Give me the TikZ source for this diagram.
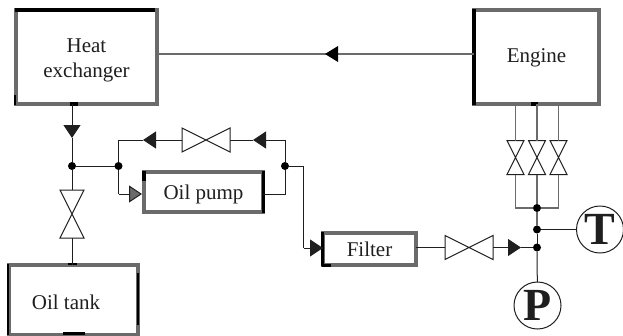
\documentclass[tikz,border=0pt]{standalone}
\usepackage{fontspec}
\setmainfont{Liberation Serif}
\usetikzlibrary{arrows.meta,calc}
\definecolor{ink}{gray}{0.12}
\definecolor{edgegrey}{gray}{0.42}
\tikzset{
  box/.style={draw=edgegrey,line width=3.5pt,fill=white,inner sep=0pt,outer sep=0pt,align=center,
    text=ink,font=\fontsize{21}{25}\selectfont},
  accent/.style={draw=black,line width=3.5pt},
  conn/.style={draw=ink,line width=1pt},
  greyconn/.style={draw=edgegrey,line width=1.4pt},
  tip/.style={-{Triangle[length=13pt,width=17pt]}},
  dot/.style={circle,fill=black,inner sep=0pt,outer sep=0pt,minimum size=8pt},
  gauge/.style={circle,draw=ink,line width=1pt,fill=white,inner sep=0pt,outer sep=0pt,minimum size=47pt,
    text=ink,font=\bfseries\fontsize{46}{46}\selectfont},
  valveh/.style={inner sep=0pt,outer sep=0pt,minimum width=48pt,minimum height=24pt,
    append after command={\pgfextra{\draw[conn,line join=miter] (\tikzlastnode.north west) -- (\tikzlastnode.south east)
      -- (\tikzlastnode.north east) -- (\tikzlastnode.south west) -- cycle;}}},
  valvev/.style={inner sep=0pt,outer sep=0pt,minimum width=#1,minimum height=#1*2,
    append after command={\pgfextra{\draw[conn,line join=miter] (\tikzlastnode.north west) -- (\tikzlastnode.south east)
      -- (\tikzlastnode.south west) -- (\tikzlastnode.north east) -- cycle;}}},
}
\begin{document}
\begin{tikzpicture}[x=1pt,y=-1pt]
\useasboundingbox (0,0) rectangle (623,335);
% boxes
\node[box,minimum width=141pt,minimum height=94pt] (he) at (86.5,57) {\rule{0pt}{21pt}Heat\\exchanger};
\node[box,minimum width=125pt,minimum height=94pt] (engine) at (536.5,57) {\rule{0pt}{16pt}Engine};
\node[box,minimum width=119pt,minimum height=40pt] (pump) at (203.5,192) {\rule{0pt}{20pt}Oil pump};
\node[box,minimum width=93pt,minimum height=32pt] (filter) at (369.5,249) {\rule{0pt}{16pt}Filter};
\node[box,minimum width=129pt,minimum height=70pt] (tank) at (73.5,300) {};
\node[text=ink,font=\fontsize{21}{25}\selectfont,inner sep=0pt] (tanklabel) at (66,302) {Oil tank};
% accents
\draw[accent] (15,10) -- (155,10);
\draw[accent] (70,104) -- (78,104);
\draw[line width=1.5pt,black] (15,95) -- (15,105);
\draw[accent] (474,9) -- (474,105);
\draw[accent] (531,104) -- (538,104);
\draw[accent] (144,171) -- (144,181);
\draw[accent] (263.5,171) -- (263.5,213);
\draw[accent,line width=2.5pt] (8,264) -- (8,335);
\draw[accent,line width=2.5pt] (138,273) -- (138,325);
\draw[accent] (63,333.5) -- (85,333.5);
\draw[line width=1.5pt,black] (68,264) -- (77,264);
\draw[accent] (322.5,232) -- (322.5,266);
\draw[accent] (322,265.5) -- (331,265.5);
% junctions and arrow tips
\node[dot] (j1) at (72,166) {};
\node[dot] (j2) at (118.5,166) {};
\node[dot] (j3) at (285,166) {};
\node[dot] (j5) at (537,247.5) {};
\node[dot] (j6) at (537,229.5) {};
\node[dot] (j7) at (537,208) {};
\coordinate (tipmain) at (325,54);
\coordinate (tipdown) at (72,138);
\coordinate (tipa) at (253,140);
\coordinate (tipb) at (143,140);
\coordinate (cnrb) at (285,140);
\coordinate (cnrc) at (118.5,140);
\coordinate (cnrd) at (118.5,194);
\coordinate (cnre) at (285,194);
\coordinate (cnrf) at (303.5,166);
\coordinate (cnrg) at (303.5,248);
\coordinate (tipf) at (323,248);
\coordinate (tipg) at (521,247.5);
\coordinate (tiph) at (142,194);
\coordinate (cnrl) at (515.5,208);
\coordinate (cnrr) at (558.5,208);
% valves
\node[valveh] (v1) at (206,140) {};
\node[valveh] (v2) at (469,247.5) {};
\node[valvev=24pt] (v3) at (72,214) {};
\node[valvev=17pt] (vl) at (515.5,157.5) {};
\node[valvev=17pt] (vm) at (537,157.5) {};
\node[valvev=17pt] (vr) at (558.5,157.5) {};
% gauges
\node[gauge] (t) at (600,229.5) {\raisebox{-3pt}{T}};
\node[gauge] (p) at (537.5,305.5) {\raisebox{-3pt}{P}};
% connectors
\draw[greyconn] (engine.west |- tipmain) -- (tipmain);
\fill[black] (tipmain) -- ++(13,-8) -- ++(0,16) -- cycle;
\draw[greyconn] (tipmain) -- (he.east |- tipmain);
\draw[conn,tip] (he.south -| tipdown) -- (tipdown);
\draw[conn] (tipdown) -- (j1);
\draw[conn] (j1) -- (j2);
\draw[conn] (j1) -- (v3.north);
\draw[conn] (v3.south) -- (tank.north -| v3);
\draw[conn] (j3) -- (cnrb);
\draw[conn,tip] (cnrb) -- (tipa);
\draw[conn] (tipa) -- (v1.east);
\draw[conn,tip] (v1.west) -- (tipb);
\draw[conn] (tipb) -- (cnrc) -- (j2);
\draw[conn] (j2) -- (cnrd);
\draw[conn,-{Triangle[length=13pt,width=17pt,fill=edgegrey]}] (cnrd) -- (tiph);
\draw[conn] (pump.east |- cnre) -- (cnre) -- (j3);
\draw[conn] (j3) -- (cnrf) -- (cnrg);
\draw[conn,tip] (cnrg) -- (tipf);
\draw[conn] (filter.east |- v2) -- (v2.west);
\draw[conn,tip] (v2.east) -- (tipg);
\draw[conn] (tipg) -- (j5);
\draw[greyconn] (engine.south -| vl) -- (vl.north);
\draw[greyconn,line width=1.6pt] (engine.south -| vm) -- (vm.north);
\draw[greyconn] (engine.south -| vr) -- (vr.north);
\draw[greyconn] (vl.south) -- (cnrl) -- (j7);
\draw[greyconn,line width=1.6pt] (vm.south) -- (j7);
\draw[greyconn] (vr.south) -- (cnrr) -- (j7);
\draw[greyconn,line width=1.6pt] (j7) -- (j6);
\draw[conn] (j6) -- (j5);
\draw[conn] (j6) -- (t);
\draw[conn] (j5) -- (p);
\end{tikzpicture}
\end{document}
